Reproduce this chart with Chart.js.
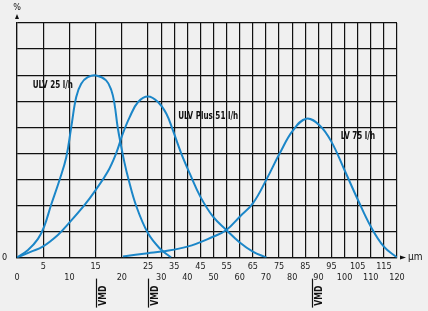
<!DOCTYPE html>
<html>
<head>
<meta charset="utf-8">
<script src="https://cdn.jsdelivr.net/npm/chart.js@4/dist/chart.umd.min.js"></script>
<style>
  html, body { margin: 0; padding: 0; background: #f0f0f0; }
  #wrap { width: 428px; height: 311px; position: relative; }
</style>
</head>
<body>
<div id="wrap"><canvas id="dropChart"></canvas></div>
<script>
// droplet size in µm, share in grid units (the % axis has no scale)
const ulv25X = [0, 2.1, 4.0, 5.2, 6.5, 8.1, 9.4, 10.35, 11.3, 12.25, 13.5, 15.1, 17.0, 18.0, 18.6, 19.2, 19.9, 20.4, 21.15, 22.8, 25, 29.4, 33.8];
const ulv25Y = [0, 0.29, 0.72, 1.2, 2.02, 2.97, 3.85, 5.01, 6.16, 6.67, 6.92, 6.99, 6.8, 6.42, 5.9, 5.01, 4.24, 3.74, 3.1, 1.95, 0.93, 0.36, 0];

const ulvPlusX = [0, 2.7, 4.9, 7.8, 9.9, 12.9, 15, 17.3, 18.9, 20.2, 21.5, 23.1, 25, 28.8, 32, 34.5, 37.7, 40.9, 45, 49.8, 54.9, 60, 65, 70.2];
const ulvPlusY = [0, 0.23, 0.42, 0.87, 1.32, 2.02, 2.59, 3.29, 3.99, 4.76, 5.39, 5.97, 6.18, 5.97, 5.52, 4.88, 3.99, 3.23, 2.33, 1.57, 1.06, 0.58, 0.23, 0];

const lv75X = [20.2, 25, 30, 40, 49.8, 54.9, 60, 65, 70.2, 75.2, 80.3, 85.4, 90.5, 95, 100, 105.1, 110, 115, 120];
const lv75Y = [0.04, 0.17, 0.23, 0.42, 0.8, 1.06, 1.57, 2.08, 3.0, 3.99, 4.88, 5.33, 5.07, 4.44, 3.35, 2.21, 1.19, 0.42, 0];

const xTickValues = [0, 5, 10, 15, 20, 25, 30, 35, 40, 45, 50, 55, 60, 65, 70, 75, 80, 85, 90, 95, 100, 105, 110, 115, 120];
const vmdValues = [15, 25, 87.5];

const seriesNames = ['ULV 25 l/h', 'ULV Plus 51 l/h', 'LV 75 l/h'];

// the axis is stretched x2 below 25 µm
const toPos = v => v <= 25 ? v * 2 : v + 25;
const fromPos = p => p <= 50 ? p / 2 : p - 25;

const pts = (xs, ys) => xs.map((x, i) => ({ x: toPos(x), y: ys[i] }));

const curveLabels = [
  { text: seriesNames[0], x: 3.0, y: 6.6 },
  { text: seriesNames[1], x: 36.5, y: 5.43 },
  { text: seriesNames[2], x: 98.5, y: 4.66 }
];

const blue = '#1b86c8';
const labelFont = 'bold 11px "Liberation Sans Narrow", "DejaVu Sans Condensed", sans-serif';
const tickFont = '"Liberation Sans Narrow", "DejaVu Sans Condensed", sans-serif';

// narrow text helper, the source uses a condensed face
function narrowText(ctx, text, x, y, squeeze) {
  ctx.save();
  ctx.translate(x, y);
  ctx.scale(squeeze, 1);
  ctx.fillText(text, 0, 0);
  ctx.restore();
}

const extras = {
  id: 'extras',
  afterDraw(chart) {
    const { ctx, scales: { x, y }, chartArea } = chart;
    ctx.save();
    ctx.fillStyle = '#111';
    ctx.strokeStyle = '#111';

    // curve names
    ctx.font = labelFont;
    ctx.textBaseline = 'middle';
    ctx.textAlign = 'left';
    curveLabels.forEach(l => {
      narrowText(ctx, l.text, x.getPixelForValue(toPos(l.x)), y.getPixelForValue(l.y), 0.73);
    });

    // y zero label and % arrow
    ctx.font = '9px ' + tickFont;
    ctx.textAlign = 'left';
    ctx.fillText('0', 2, y.getPixelForValue(0));
    ctx.textAlign = 'center';
    ctx.fillText('%', chartArea.left, chartArea.top - 15);
    ctx.beginPath();
    ctx.moveTo(chartArea.left, chartArea.top - 9);
    ctx.lineTo(chartArea.left - 2, chartArea.top - 4);
    ctx.lineTo(chartArea.left + 2, chartArea.top - 4);
    ctx.closePath();
    ctx.fill();

    // x arrow and unit
    const yb = y.getPixelForValue(0);
    ctx.beginPath();
    ctx.moveTo(chartArea.right + 9, yb);
    ctx.lineTo(chartArea.right + 3, yb - 2);
    ctx.lineTo(chartArea.right + 3, yb + 2);
    ctx.closePath();
    ctx.fill();
    ctx.font = '10px ' + tickFont;
    ctx.textAlign = 'left';
    ctx.fillText('µm', chartArea.right + 11, yb);

    // VMD markers
    ctx.lineWidth = 1.2;
    vmdValues.forEach(v => {
      const px = Math.round(x.getPixelForValue(toPos(v))) + 0.5;
      ctx.beginPath();
      ctx.moveTo(px, yb + 21);
      ctx.lineTo(px, yb + 50);
      ctx.stroke();
      ctx.save();
      ctx.translate(px + 7, yb + 38);
      ctx.rotate(-Math.PI / 2);
      ctx.font = labelFont;
      ctx.textAlign = 'center';
      ctx.textBaseline = 'middle';
      narrowText(ctx, 'VMD', 0, 0, 0.78);
      ctx.restore();
    });
    ctx.restore();
  }
};

const lineStyle = {
  borderColor: blue,
  borderWidth: 2,
  pointRadius: 0,
  fill: false,
  tension: 0.4
};

new Chart(document.getElementById('dropChart').getContext('2d'), {
  type: 'line',
  data: {
    datasets: [
      { label: seriesNames[0], data: pts(ulv25X, ulv25Y), ...lineStyle },
      { label: seriesNames[1], data: pts(ulvPlusX, ulvPlusY), ...lineStyle },
      { label: seriesNames[2], data: pts(lv75X, lv75Y), ...lineStyle }
    ]
  },
  options: {
    responsive: true,
    maintainAspectRatio: false,
    animation: false,
    layout: { padding: { left: 17, right: 31, top: 23, bottom: 24 } },
    plugins: { legend: { display: false }, tooltip: { enabled: false } },
    scales: {
      x: {
        type: 'linear',
        min: 0,
        max: toPos(120),
        afterBuildTicks: scale => {
          scale.ticks = xTickValues.map(v => ({ value: toPos(v) }));
        },
        grid: { color: '#111', lineWidth: 1.2, drawTicks: false },
        border: { color: '#111', width: 1.2 },
        ticks: {
          autoSkip: false,
          maxRotation: 0,
          padding: 3,
          color: '#222',
          font: { family: tickFont, size: 9, lineHeight: 1.3 },
          callback: value => {
            const v = Math.round(fromPos(value));
            return (v / 5) % 2 ? String(v) : ['', String(v)];
          }
        }
      },
      y: {
        min: 0,
        max: 9,
        grid: { color: '#111', lineWidth: 1.2, drawTicks: false },
        border: { color: '#111', width: 1.2 },
        ticks: { display: false, stepSize: 1 }
      }
    }
  },
  plugins: [extras]
});
</script>
</body>
</html>
